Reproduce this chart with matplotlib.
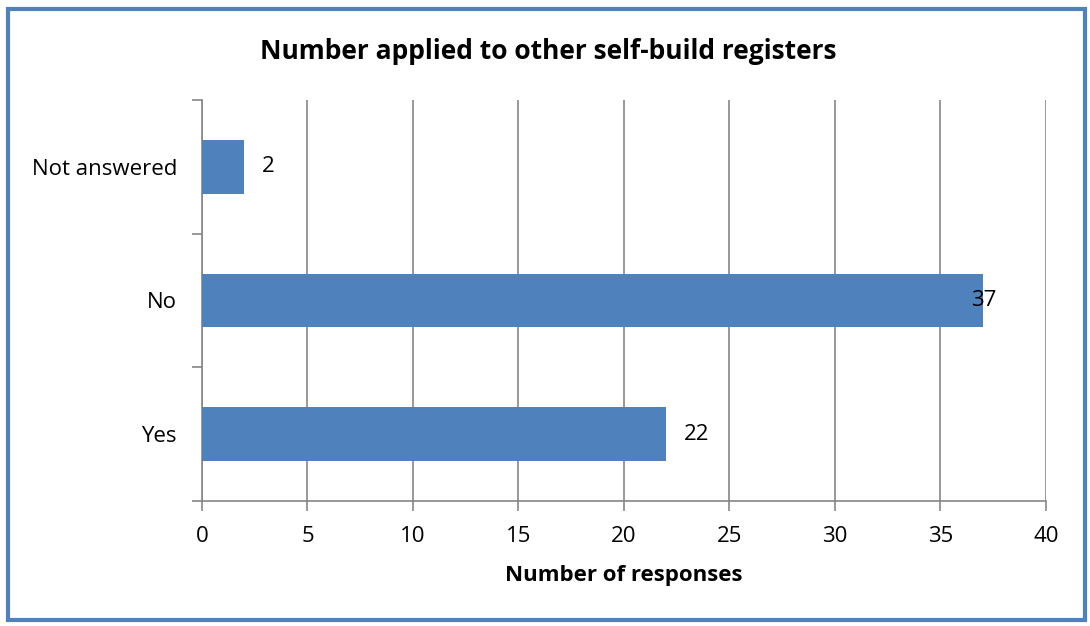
import numpy as np
import matplotlib.pyplot as plt
from matplotlib.patches import Rectangle

# Responses per category (bottom to top)
categories = ['Yes', 'No', 'Not answered']
responses = [22, 37, 2]
label_offsets = [13, -8, 13]   # points, per value label
x_ticks = [0, 5, 10, 15, 20, 25, 30, 35, 40]

plt.rcParams['font.family'] = ['Open Sans', 'DejaVu Sans']

fig = plt.figure(figsize=(10.9, 6.26), dpi=100)
ax = fig.add_axes([0.1853, 0.1997, 0.7743, 0.6406])

ypos = np.arange(len(categories))
ax.barh(ypos, responses, height=0.4, color='#4F81BD', zorder=3)

for y, v, off in zip(ypos, responses, label_offsets):
	ax.annotate(str(v), (v, y), textcoords='offset points', xytext=(off, 0),
		ha='left', va='center', fontsize=16, zorder=4)

ax.set_xlim(0, 40)
ax.set_ylim(-0.5, 2.5)
ax.set_xticks(x_ticks)
ax.set_yticks(ypos)
ax.set_yticklabels(categories)
# category boundary ticks on the y-axis, as in a spreadsheet chart
ax.set_yticks(np.arange(-0.5, 3.0, 1.0), minor=True)
ax.tick_params(axis='y', which='major', length=0, pad=18, labelsize=16)
ax.tick_params(axis='y', which='minor', length=7, width=1.2, color='#868686')
ax.tick_params(axis='x', length=7, width=1.2, color='#868686', labelsize=16, pad=11)

ax.grid(axis='x', color='#868686', linewidth=1.2, zorder=0)
for side in ['top', 'right']:
	ax.spines[side].set_visible(False)
for side in ['left', 'bottom']:
	ax.spines[side].set_color('#868686')
	ax.spines[side].set_linewidth(1.2)

ax.set_xlabel('Number of responses', fontsize=16, fontweight='bold', labelpad=13)
fig.text(0.503, 0.918, 'Number applied to other self-build registers',
	ha='center', va='center', fontsize=19, fontweight='bold')

# blue frame round the whole chart
fig.patches.append(Rectangle((0.0075, 0.009), 0.988, 0.976, transform=fig.transFigure,
	fill=False, edgecolor='#4F81BD', linewidth=3))

plt.savefig('out.png', dpi=100)
